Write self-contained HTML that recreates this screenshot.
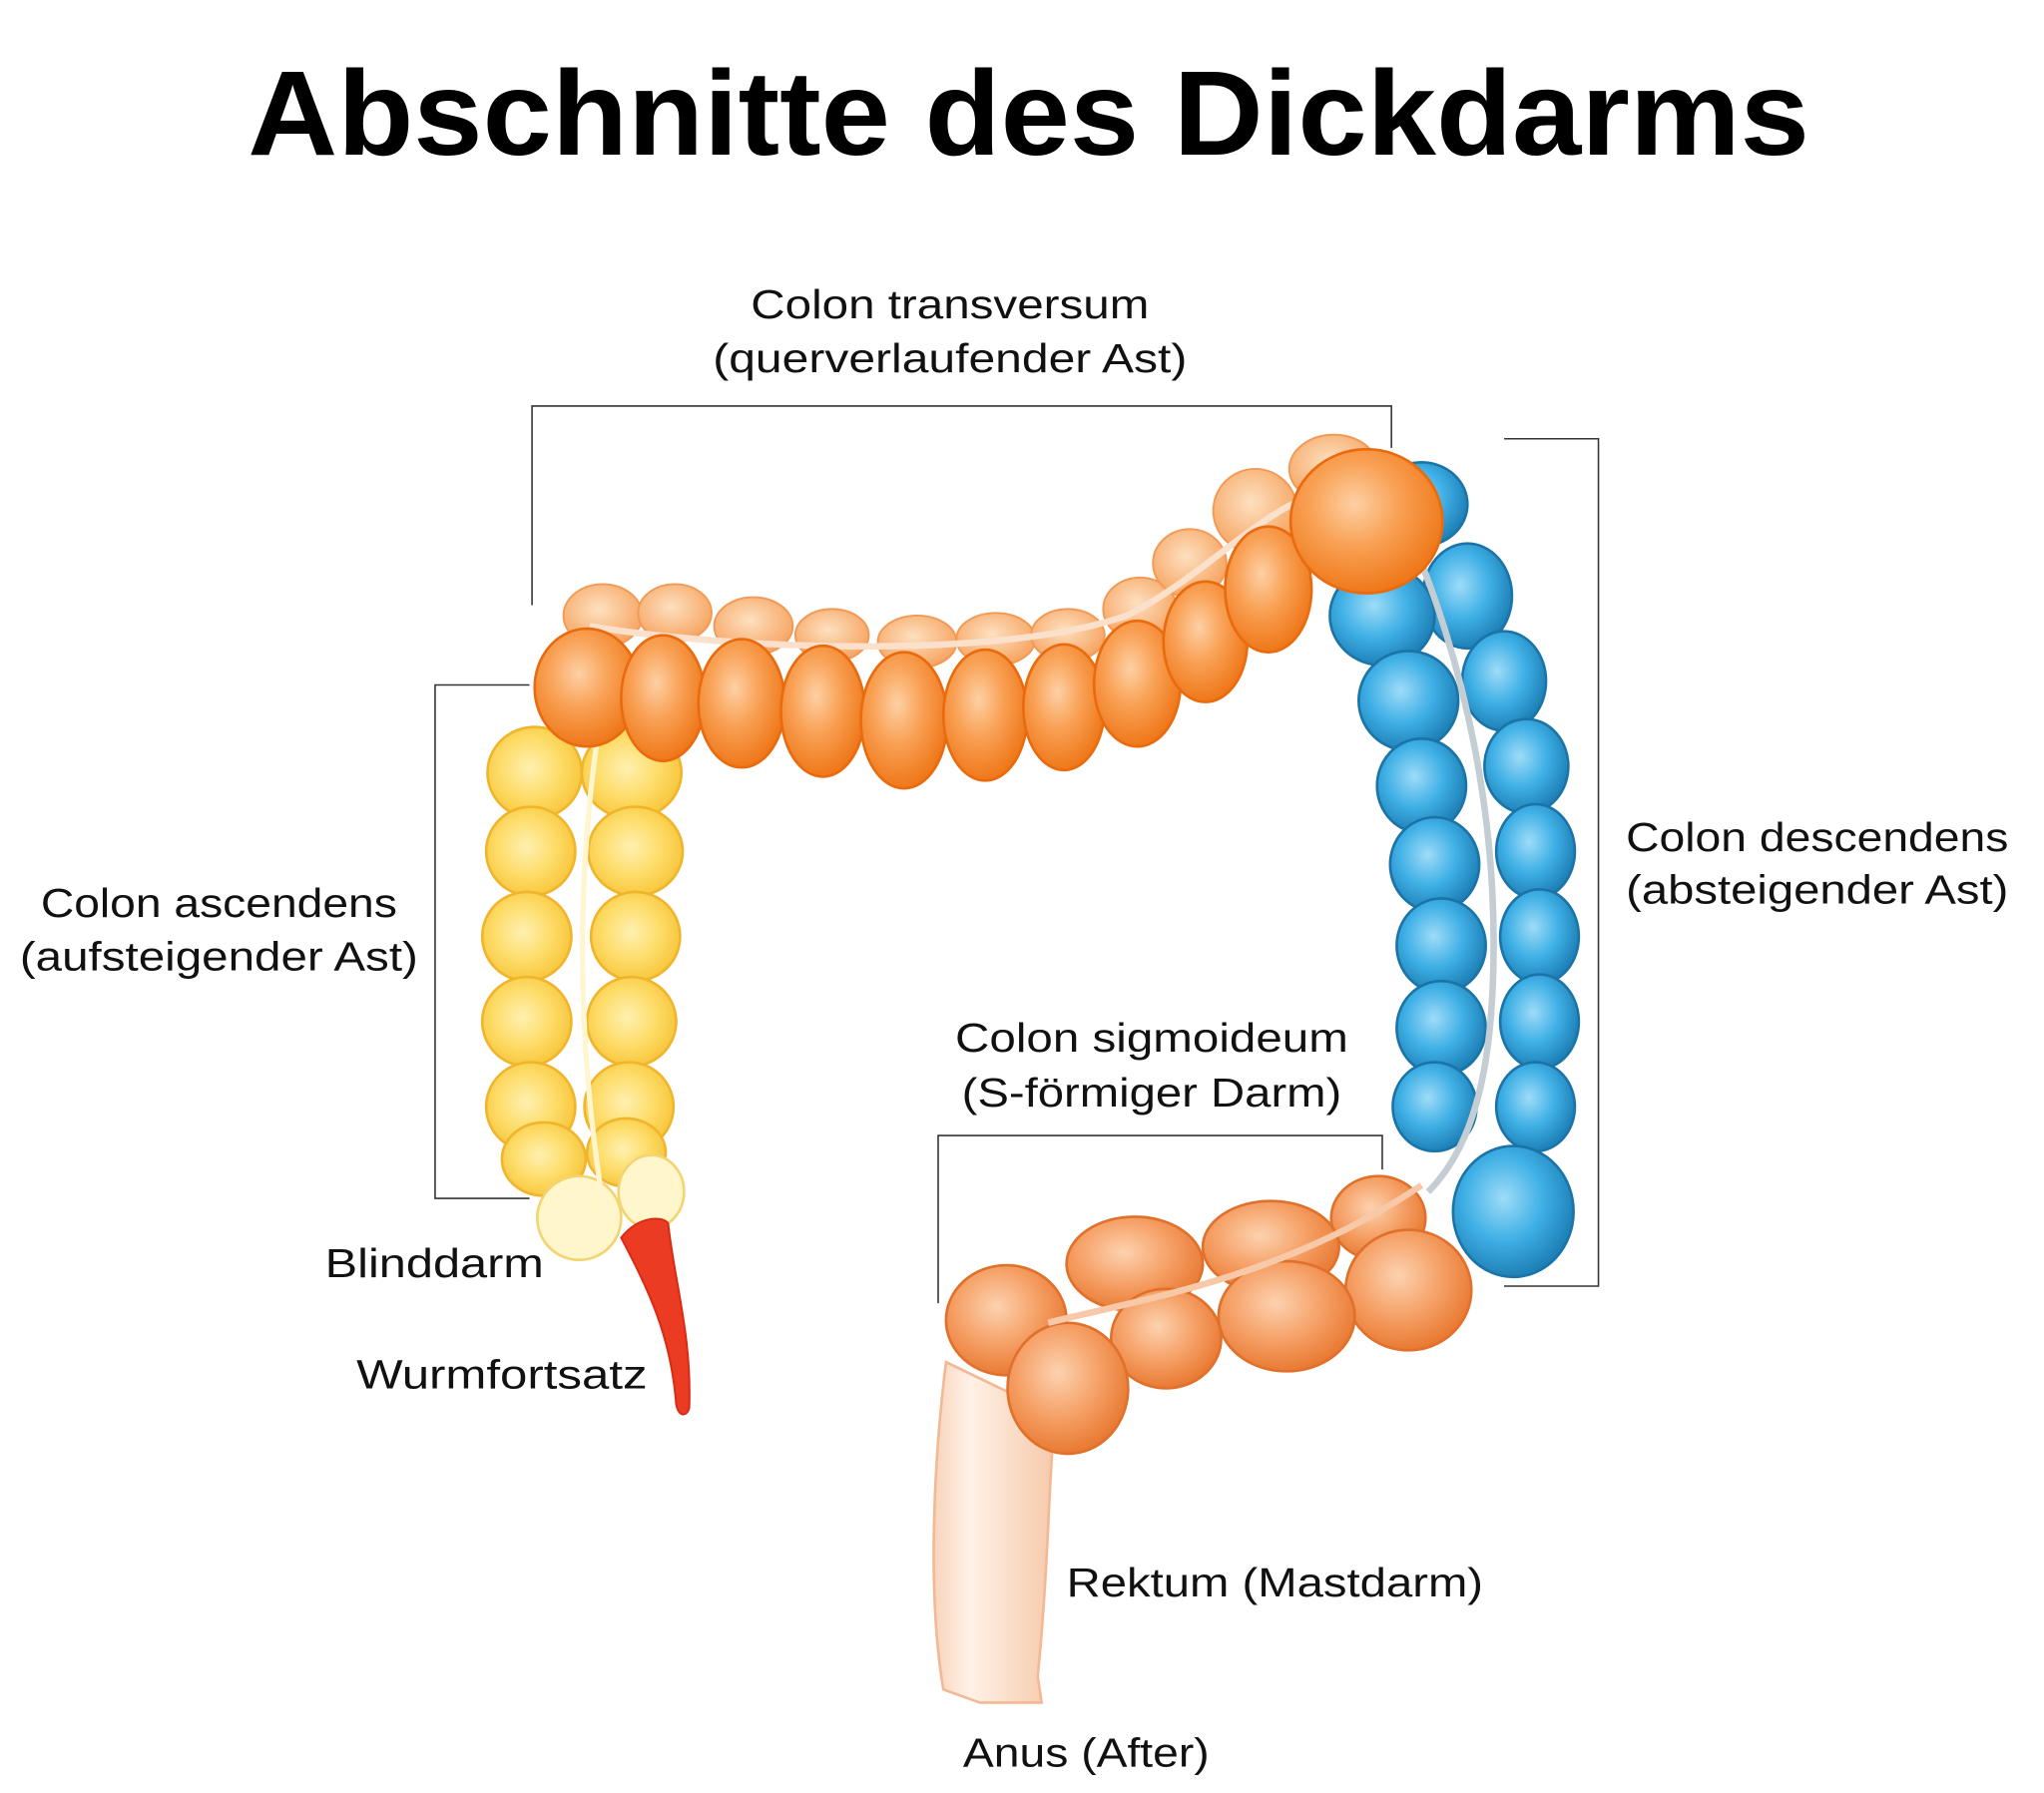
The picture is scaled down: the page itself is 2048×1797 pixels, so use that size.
<!DOCTYPE html>
<html><head><meta charset="utf-8"><style>html,body{margin:0;padding:0;background:#fff}svg{display:block}</style></head><body>
<svg width="2048" height="1797" viewBox="0 0 1560 1369" xmlns="http://www.w3.org/2000/svg">
<defs>
<radialGradient id="o" cx="0.42" cy="0.38" r="0.65"><stop offset="0" stop-color="#fdd0a4"/><stop offset="0.45" stop-color="#f9a155"/><stop offset="1" stop-color="#ee7414"/></radialGradient>
<radialGradient id="ob" cx="0.45" cy="0.4" r="0.65"><stop offset="0" stop-color="#fde0c0"/><stop offset="1" stop-color="#f6a05a"/></radialGradient>
<radialGradient id="y" cx="0.45" cy="0.45" r="0.65"><stop offset="0" stop-color="#fff0b0"/><stop offset="0.5" stop-color="#fddc68"/><stop offset="1" stop-color="#f6bf2e"/></radialGradient>
<radialGradient id="b" cx="0.42" cy="0.4" r="0.65"><stop offset="0" stop-color="#9edcf8"/><stop offset="0.5" stop-color="#3fb0e6"/><stop offset="1" stop-color="#1878ae"/></radialGradient>
<radialGradient id="s" cx="0.42" cy="0.38" r="0.65"><stop offset="0" stop-color="#fcd2b0"/><stop offset="0.5" stop-color="#f6a36a"/><stop offset="1" stop-color="#e8762e"/></radialGradient>
<linearGradient id="r" x1="0" x2="1"><stop offset="0" stop-color="#f9d4bb"/><stop offset="0.3" stop-color="#fff1e6"/><stop offset="1" stop-color="#f6c9aa"/></linearGradient>
</defs>
<text x="785" y="118" font-family="Liberation Sans, sans-serif" font-weight="bold" font-size="92" text-anchor="middle" textLength="1192" lengthAdjust="spacingAndGlyphs">Abschnitte des Dickdarms</text>
<g fill="none" stroke="#333" stroke-width="1.2">
<polyline points="406,462 406,310 1062,310 1062,342"/>
<polyline points="404,523 332,523 332,915 404,915"/>
<polyline points="1148,335 1220,335 1220,982 1148,982"/>
<polyline points="716,995 716,867 1055,867 1055,893"/>
</g>
<g font-family="Liberation Sans, sans-serif" font-size="31" fill="#111">
<text x="725" y="243" text-anchor="middle" textLength="304" lengthAdjust="spacingAndGlyphs">Colon transversum</text>
<text x="725" y="284" text-anchor="middle" textLength="362" lengthAdjust="spacingAndGlyphs">(querverlaufender Ast)</text>
<text x="167" y="700" text-anchor="middle" textLength="272" lengthAdjust="spacingAndGlyphs">Colon ascendens</text>
<text x="167" y="741" text-anchor="middle" textLength="304" lengthAdjust="spacingAndGlyphs">(aufsteigender Ast)</text>
<text x="1241" y="650" textLength="292" lengthAdjust="spacingAndGlyphs">Colon descendens</text>
<text x="1241" y="690" textLength="292" lengthAdjust="spacingAndGlyphs">(absteigender Ast)</text>
<text x="879" y="803" text-anchor="middle" textLength="300" lengthAdjust="spacingAndGlyphs">Colon sigmoideum</text>
<text x="879" y="845" text-anchor="middle" textLength="290" lengthAdjust="spacingAndGlyphs">(S-förmiger Darm)</text>
<text x="248" y="975" textLength="167" lengthAdjust="spacingAndGlyphs">Blinddarm</text>
<text x="272" y="1060" textLength="222" lengthAdjust="spacingAndGlyphs">Wurmfortsatz</text>
<text x="814" y="1219" textLength="318" lengthAdjust="spacingAndGlyphs">Rektum (Mastdarm)</text>
<text x="735" y="1349" textLength="188" lengthAdjust="spacingAndGlyphs">Anus (After)</text>
</g>
<!-- rectum -->
<path d="M722,1040 C712,1120 708,1220 720,1290 L748,1300 L795,1300 L792,1280 C800,1200 800,1140 805,1080 Z" fill="url(#r)" stroke="#f3b894" stroke-width="2"/>
<!-- transverse back -->
<g fill="url(#ob)" stroke="#f29a55" stroke-width="1.5">
<ellipse cx="460" cy="470" rx="30" ry="24"/><ellipse cx="515" cy="468" rx="28" ry="22"/><ellipse cx="575" cy="478" rx="30" ry="22"/><ellipse cx="635" cy="485" rx="28" ry="20"/><ellipse cx="700" cy="490" rx="30" ry="20"/><ellipse cx="760" cy="488" rx="30" ry="20"/><ellipse cx="815" cy="485" rx="28" ry="20"/><ellipse cx="870" cy="465" rx="28" ry="24"/><ellipse cx="908" cy="430" rx="28" ry="26"/><ellipse cx="958" cy="390" rx="32" ry="32"/><ellipse cx="1018" cy="358" rx="34" ry="26"/>
</g>
<path d="M450,478 C550,495 760,505 860,470 C920,440 960,390 1010,375" fill="none" stroke="#fbe0cc" stroke-width="5"/>
<!-- descending blue -->
<g fill="url(#b)" stroke="#1a74a8" stroke-width="2">
<ellipse cx="1085" cy="385" rx="35" ry="32"/><ellipse cx="1120" cy="455" rx="34" ry="40"/><ellipse cx="1055" cy="470" rx="40" ry="38"/>
<ellipse cx="1148" cy="520" rx="32" ry="38"/><ellipse cx="1075" cy="535" rx="38" ry="38"/>
<ellipse cx="1165" cy="585" rx="32" ry="36"/><ellipse cx="1085" cy="600" rx="34" ry="36"/>
<ellipse cx="1172" cy="650" rx="30" ry="36"/><ellipse cx="1095" cy="660" rx="34" ry="36"/>
<ellipse cx="1175" cy="715" rx="30" ry="36"/><ellipse cx="1100" cy="722" rx="34" ry="36"/>
<ellipse cx="1175" cy="780" rx="30" ry="36"/><ellipse cx="1100" cy="785" rx="34" ry="36"/>
<ellipse cx="1172" cy="845" rx="30" ry="34"/><ellipse cx="1095" cy="845" rx="32" ry="34"/>
<ellipse cx="1155" cy="925" rx="46" ry="50"/>
</g>
<path d="M1085,430 C1120,520 1140,620 1140,720 C1140,800 1130,870 1090,910" fill="none" stroke="#c4cdd3" stroke-width="5"/>
<!-- ascending yellow -->
<g fill="url(#y)" stroke="#f0b52a" stroke-width="2">
<ellipse cx="408" cy="590" rx="36" ry="35"/><ellipse cx="482" cy="590" rx="38" ry="35"/>
<ellipse cx="405" cy="650" rx="34" ry="34"/><ellipse cx="485" cy="650" rx="36" ry="34"/>
<ellipse cx="402" cy="715" rx="34" ry="34"/><ellipse cx="485" cy="715" rx="34" ry="34"/>
<ellipse cx="402" cy="780" rx="34" ry="34"/><ellipse cx="482" cy="780" rx="34" ry="34"/>
<ellipse cx="405" cy="845" rx="34" ry="34"/><ellipse cx="480" cy="845" rx="34" ry="34"/>
<ellipse cx="415" cy="885" rx="32" ry="28"/><ellipse cx="478" cy="880" rx="30" ry="26"/>
</g>
<g fill="#fff6cc" stroke="#f2d470" stroke-width="2">
<ellipse cx="442" cy="930" rx="32" ry="32"/><ellipse cx="497" cy="910" rx="25" ry="28"/>
</g>
<path d="M455,570 C440,680 440,800 462,930" fill="none" stroke="#fff6d0" stroke-width="4"/>
<!-- appendix -->
<path d="M474,945 C490,925 510,930 510,935 C515,980 528,1020 526,1075 C524,1082 518,1082 516,1072 C512,1020 495,985 474,945 Z" fill="#ec3b23" stroke="#d92a12" stroke-width="1.5"/>
<!-- transverse front -->
<g fill="url(#o)" stroke="#ea6a0e" stroke-width="2">
<ellipse cx="448" cy="525" rx="40" ry="45"/><ellipse cx="506" cy="533" rx="32" ry="48"/><ellipse cx="566" cy="537" rx="33" ry="49"/><ellipse cx="628" cy="543" rx="32" ry="50"/><ellipse cx="690" cy="550" rx="33" ry="52"/><ellipse cx="752" cy="546" rx="32" ry="50"/><ellipse cx="812" cy="540" rx="31" ry="48"/><ellipse cx="868" cy="522" rx="33" ry="48"/><ellipse cx="920" cy="490" rx="32" ry="46"/><ellipse cx="968" cy="450" rx="33" ry="48"/><ellipse cx="1043" cy="398" rx="58" ry="55"/>
</g>
<!-- sigmoid -->
<g fill="url(#s)" stroke="#e0702a" stroke-width="2">
<ellipse cx="1052" cy="930" rx="36" ry="32"/><ellipse cx="970" cy="952" rx="52" ry="35"/><ellipse cx="866" cy="965" rx="52" ry="36"/>
<ellipse cx="768" cy="1008" rx="46" ry="42"/>
<ellipse cx="1075" cy="985" rx="48" ry="46"/><ellipse cx="982" cy="1005" rx="52" ry="42"/><ellipse cx="890" cy="1022" rx="42" ry="38"/><ellipse cx="815" cy="1060" rx="46" ry="50"/>
</g>
<path d="M800,1010 C880,990 980,975 1085,905" fill="none" stroke="#f7c9a8" stroke-width="5"/>
</svg>
</body></html>
